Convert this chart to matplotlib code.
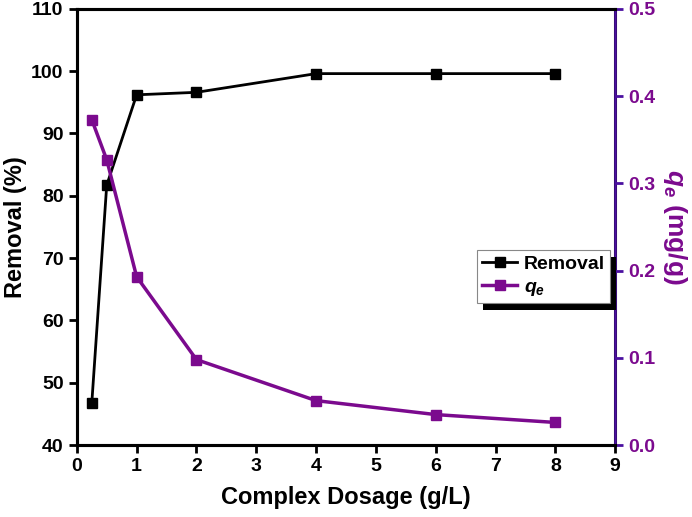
import matplotlib
matplotlib.use('Agg')
import matplotlib.pyplot as plt
from matplotlib.patches import Rectangle
from matplotlib.transforms import IdentityTransform

# --- data --- #
dosage = [0.25, 0.5, 1, 2, 4, 6, 8]
removal = [46.7, 81.7, 96.2, 96.6, 99.6, 99.6, 99.6]
qe = [0.373, 0.327, 0.193, 0.098, 0.051, 0.035, 0.026]

x_ticks = list(range(0, 10))
left_ticks = list(range(40, 111, 10))
right_ticks = [0.0, 0.1, 0.2, 0.3, 0.4, 0.5]

purple = '#7B0A8E'
spine_purple = '#4B10A0'

plt.rcParams['font.family'] = ['Liberation Sans', 'DejaVu Sans']
plt.rcParams['font.weight'] = 'bold'
plt.rcParams['mathtext.fontset'] = 'custom'
plt.rcParams['mathtext.it'] = 'Liberation Sans:italic:bold'
plt.rcParams['mathtext.rm'] = 'Liberation Sans:bold'

fig = plt.figure(figsize=(6.92, 5.17), dpi=100)
ax = fig.add_axes([0.111, 0.139, 0.778, 0.844])
ax2 = ax.twinx()

p0, = ax.plot(dosage, removal, '-s', color='black', lw=2, ms=7,
              label='Removal', zorder=3)
p1, = ax2.plot(dosage, qe, '-s', color=purple, lw=2.5, ms=7,
               label=r'$q_e$', zorder=3)

ax.set_xlim(0, 9)
ax.set_ylim(40, 110)
ax2.set_ylim(0, 0.5)
ax.set_xticks(x_ticks)
ax.set_yticks(left_ticks)
ax2.set_yticks(right_ticks)
ax2.set_yticklabels(['%.1f' % v for v in right_ticks])

ax.set_xlabel('Complex Dosage (g/L)', fontsize=17, fontweight='bold', labelpad=8)
ax.set_ylabel('Removal (%)', fontsize=17, fontweight='bold', labelpad=3)
ax2.set_ylabel(r'$q_e$ (mg/g)', fontsize=19, fontweight='bold', color=purple,
               rotation=270, labelpad=24)

for a in (ax, ax2):
    for s in a.spines.values():
        s.set_linewidth(2.2)
ax2.spines['right'].set_color(spine_purple)
ax2.spines['right'].set_linewidth(1.8)

ax.tick_params(axis='both', direction='out', length=6, width=2, labelsize=14)
ax2.tick_params(axis='y', direction='out', length=6, width=2, labelsize=14,
                colors=purple)
ax2.tick_params(axis='y', color=spine_purple)

for label in ax.get_xticklabels() + ax.get_yticklabels() + ax2.get_yticklabels():
    label.set_fontweight('bold')

leg = ax2.legend(handles=[p0, p1], loc='upper left',
                 bbox_to_anchor=(0.744, 0.447), fancybox=False, framealpha=1,
                 edgecolor='#888888', fontsize=14, handlelength=1.8,
                 borderpad=0.25, labelspacing=0.3, handletextpad=0.35,
                 borderaxespad=0)
leg.get_frame().set_linewidth(0.8)
leg.set_zorder(10)

# thick black drop shadow behind the legend
fig.canvas.draw()
bb = leg.get_window_extent()
shadow = Rectangle((bb.x0 + 6, bb.y0 - 7), bb.width, bb.height,
                   transform=IdentityTransform(), facecolor='black',
                   edgecolor='none', zorder=9, clip_on=False)
ax2.add_artist(shadow)
shadow.set_transform(IdentityTransform())

plt.savefig('out.png', dpi=100)
